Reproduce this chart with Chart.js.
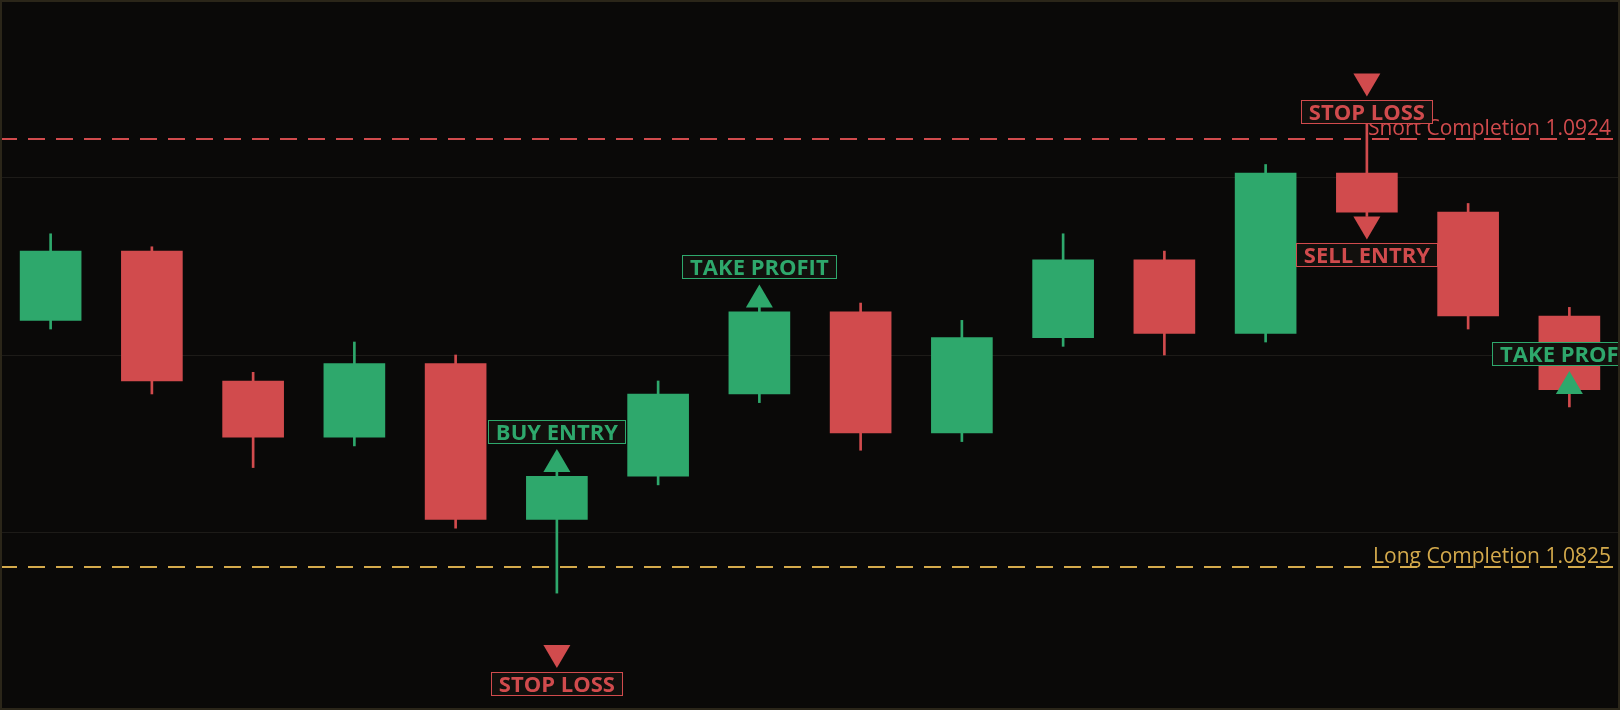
<!DOCTYPE html>
<html>
<head>
<meta charset="utf-8">
<title>Trade signals</title>
<style>
  html, body { margin: 0; padding: 0; background: #0a0908; }
  #wrap { width: 1620px; height: 710px; position: relative; }
</style>
</head>
<body>
<div id="wrap"><canvas id="chart"></canvas></div>
<script src="https://cdn.jsdelivr.net/npm/chart.js@4.4.1/dist/chart.umd.min.js"></script>
<script>
// Candles (OHLC)
const candleLabels = ['1', '2', '3', '4', '5', '6', '7', '8', '9', '10', '11', '12', '13', '14', '15', '16'];
const opens  = [1.0882, 1.0898, 1.0868, 1.0855, 1.0872, 1.0836, 1.0846, 1.0865, 1.0884, 1.0856, 1.0878, 1.0896, 1.0879, 1.0916, 1.0907, 1.0883];
const highs  = [1.0902, 1.0899, 1.0870, 1.0877, 1.0874, 1.0847, 1.0868, 1.0885, 1.0886, 1.0882, 1.0902, 1.0898, 1.0918, 1.0930, 1.0909, 1.0885];
const lows   = [1.0880, 1.0865, 1.0848, 1.0853, 1.0834, 1.0819, 1.0844, 1.0863, 1.0852, 1.0854, 1.0876, 1.0874, 1.0877, 1.0906, 1.0880, 1.0862];
const closes = [1.0898, 1.0868, 1.0855, 1.0872, 1.0836, 1.0846, 1.0865, 1.0884, 1.0856, 1.0878, 1.0896, 1.0879, 1.0916, 1.0907, 1.0883, 1.0866];

// Price grid
const priceTicks = [1.0792, 1.0833, 1.0874, 1.0915, 1.0956];

// Completion levels
const levelNames  = ['Short Completion', 'Long Completion'];
const levelPrices = [1.0924, 1.0825];

// Trade signals
const signalIndex = [5, 5, 7, 13, 13, 15];
const signalText  = ['BUY ENTRY', 'STOP LOSS', 'TAKE PROFIT', 'STOP LOSS', 'SELL ENTRY', 'TAKE PROFIT'];
const signalPrice = [1.0847, 1.0807, 1.0885, 1.0939, 1.0906, 1.0865];
const signalDir   = ['up', 'down', 'up', 'down', 'down', 'up'];

const GREEN = '#2ea86c';
const RED = '#d14b4d';
const GOLD = '#d4aa4c';
const BG = '#0a0908';
const levelColors = [RED, GOLD];

const candleColors = opens.map((o, i) => closes[i] >= o ? GREEN : RED);
const bodies = opens.map((o, i) => [Math.min(o, closes[i]), Math.max(o, closes[i])]);
const wicks = lows.map((l, i) => [l, highs[i]]);

const tradePlugin = {
    id: 'trade',
    beforeDraw(chart) {
        const ctx = chart.ctx;
        ctx.save();
        ctx.fillStyle = BG;
        ctx.fillRect(0, 0, chart.width, chart.height);
        ctx.restore();
    },
    beforeDatasetsDraw(chart) {
        // dashed completion levels with right-aligned captions
        const ctx = chart.ctx;
        const y = chart.scales.y;
        ctx.save();
        levelPrices.forEach((p, i) => {
            const py = Math.round(y.getPixelForValue(p));
            ctx.strokeStyle = levelColors[i];
            ctx.lineWidth = 2;
            ctx.setLineDash([17, 11]);
            ctx.beginPath();
            ctx.moveTo(0, py);
            ctx.lineTo(chart.width, py);
            ctx.stroke();

            ctx.setLineDash([]);
            ctx.fillStyle = levelColors[i];
            ctx.font = '21px "Open Sans"';
            ctx.textAlign = 'right';
            ctx.textBaseline = 'alphabetic';
            ctx.fillText(levelNames[i] + ' ' + p.toFixed(4), chart.width - 9, py - 4);
        });
        ctx.restore();
    },
    afterDatasetsDraw(chart) {
        // arrows + boxed labels
        const ctx = chart.ctx;
        const xs = chart.scales.x;
        const ys = chart.scales.y;
        const w = 27, h = 23, bh = 24;
        ctx.save();
        ctx.font = 'bold 22px "Open Sans"';
        signalIndex.forEach((idx, i) => {
            const up = signalDir[i] === 'up';
            const color = up ? GREEN : RED;
            const x = xs.getPixelForValue(idx);
            const y = ys.getPixelForValue(signalPrice[i]);

            ctx.fillStyle = color;
            ctx.beginPath();
            ctx.moveTo(x - w / 2, y);
            ctx.lineTo(x + w / 2, y);
            ctx.lineTo(x, up ? y - h : y + h);
            ctx.closePath();
            ctx.fill();

            const tw = ctx.measureText(signalText[i]).width;
            const bw = Math.round(tw + 16);
            const bx = Math.round(x - bw / 2);
            const by = Math.round(up ? y - h - 5 - bh : y + h + 3.5);
            ctx.fillStyle = '#12100d';
            ctx.fillRect(bx, by, bw, bh);
            ctx.strokeStyle = color;
            ctx.lineWidth = 1;
            ctx.strokeRect(bx + 0.5, by + 0.5, bw - 1, bh - 1);

            ctx.fillStyle = color;
            ctx.textAlign = 'center';
            ctx.textBaseline = 'alphabetic';
            ctx.fillText(signalText[i], x, by + bh / 2 + 8);
        });
        ctx.restore();
    },
    afterDraw(chart) {
        const ctx = chart.ctx;
        ctx.save();
        ctx.strokeStyle = '#2b2619';
        ctx.lineWidth = 2;
        ctx.strokeRect(1, 1, chart.width - 2, chart.height - 2);
        ctx.restore();
    }
};

new Chart(document.getElementById('chart'), {
    type: 'bar',
    data: {
        labels: candleLabels,
        datasets: [
            {
                label: 'Body',
                data: bodies,
                backgroundColor: candleColors,
                borderWidth: 0,
                barThickness: 61,
                grouped: false,
                order: 1
            },
            {
                label: 'Wick',
                data: wicks,
                backgroundColor: candleColors,
                borderWidth: 0,
                barThickness: 2,
                grouped: false,
                order: 2
            }
        ]
    },
    options: {
        responsive: true,
        maintainAspectRatio: false,
        animation: false,
        layout: { padding: 0 },
        plugins: {
            legend: { display: false },
            tooltip: { enabled: false }
        },
        scales: {
            x: { display: false, offset: true },
            y: {
                min: priceTicks[0],
                max: priceTicks[priceTicks.length - 1],
                afterBuildTicks: axis => { axis.ticks = priceTicks.map(v => ({ value: v })); },
                ticks: { display: false },
                border: { display: false },
                grid: { color: '#1d1b18', lineWidth: 1, drawTicks: false }
            }
        }
    },
    plugins: [tradePlugin]
});
</script>
</body>
</html>
